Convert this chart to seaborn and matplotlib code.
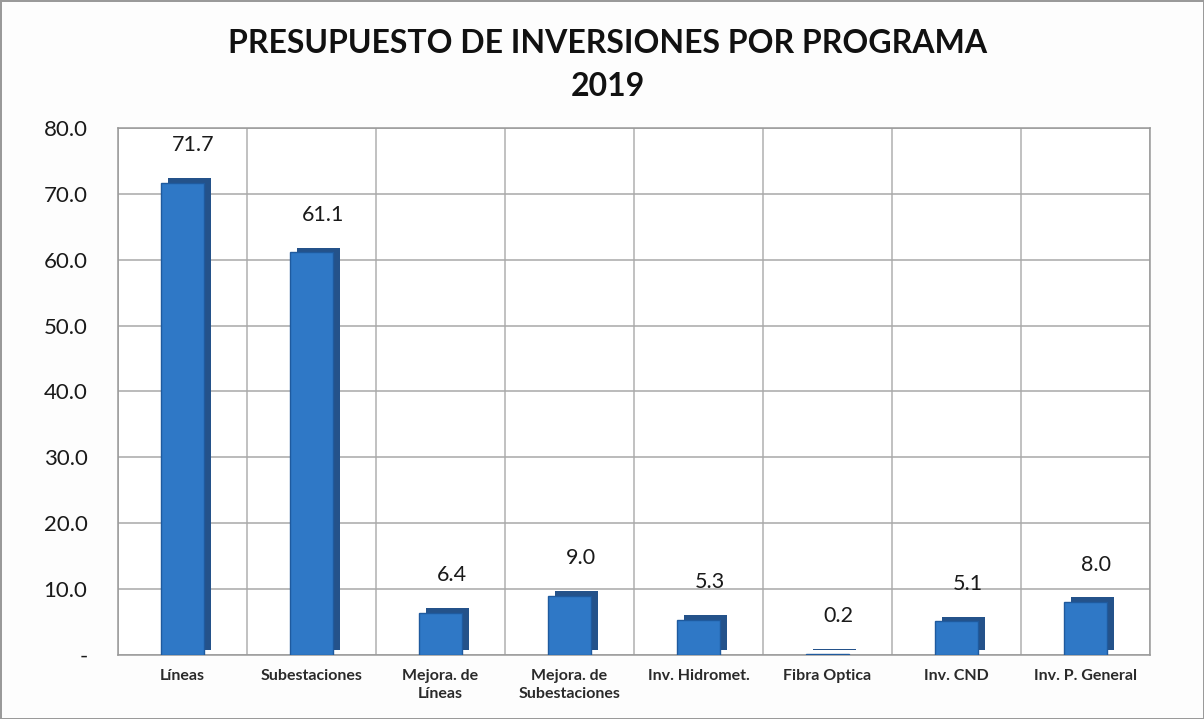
import matplotlib
matplotlib.use("Agg")
import matplotlib.pyplot as plt
import matplotlib.patheffects as pe
import seaborn as sns
import pandas as pd

categories = ["Líneas", "Subestaciones", "Mejora. de\nLíneas", "Mejora. de\nSubestaciones",
              "Inv. Hidromet.", "Fibra Optica", "Inv. CND", "Inv. P. General"]
values = [71.7, 61.1, 6.4, 9.0, 5.3, 0.2, 5.1, 8.0]
value_labels = ["71.7", "61.1", "6.4", "9.0", "5.3", "0.2", "5.1", "8.0"]
yticks = [0, 10, 20, 30, 40, 50, 60, 70, 80]
ytick_labels = ["-", "10.0", "20.0", "30.0", "40.0", "50.0", "60.0", "70.0", "80.0"]
title = "PRESUPUESTO DE INVERSIONES POR PROGRAMA\n2019"

sns.set_theme(style="white")
plt.rcParams["font.family"] = ["Lato", "DejaVu Sans"]

df = pd.DataFrame({"cat": categories, "val": values})

fig = plt.figure(figsize=(12.04, 7.19), dpi=100, facecolor="#FDFDFD",
                 linewidth=2, edgecolor="#9A9A9A")
ax = fig.add_axes([0.098, 0.089, 0.857, 0.733])
ax.set_facecolor("white")

sns.barplot(data=df, x="cat", y="val", color="#2F78C6", width=0.33,
            saturation=1, ax=ax, edgecolor="#1F5A9E", linewidth=1, zorder=3)

for p in ax.patches:
    p.set_path_effects([pe.SimplePatchShadow(offset=(5, 3.5), shadow_rgbFace="#24528A", alpha=1.0),
                        pe.Normal()])

for i, (v, lab) in enumerate(zip(values, value_labels)):
    ax.annotate(lab, (i, v), xytext=(8, 20), textcoords="offset points",
                ha="center", va="bottom", fontsize=15.5, color="#1A1A1A", zorder=5)

ax.set_ylim(0, 80)
ax.set_xlim(-0.5, len(categories) - 0.5)
ax.set_yticks(yticks)
ax.set_yticklabels(ytick_labels, fontsize=16, color="#1A1A1A")
ax.set_xticks(range(len(categories)))
ax.set_xticklabels(categories, fontsize=11.5, fontweight="bold", color="#2A2A2A",
                   linespacing=1.35)
ax.tick_params(axis="x", length=0, pad=10)
ax.tick_params(axis="y", length=0, pad=22)
ax.set_xlabel("")
ax.set_ylabel("")

ax.grid(axis="y", color="#A8A8A8", linewidth=1.1, zorder=0)
for b in range(len(categories) + 1):
    ax.axvline(b - 0.5, color="#B0B0B0", linewidth=1.1, zorder=0)
for s in ax.spines.values():
    s.set_color("#999999")
    s.set_linewidth(1.1)

fig.text(0.505, 0.96, title, ha="center", va="top", fontsize=23, fontweight="bold",
         color="#111111", linespacing=1.6)

fig.savefig("out.png", dpi=100, facecolor=fig.get_facecolor(), edgecolor=fig.get_edgecolor())
